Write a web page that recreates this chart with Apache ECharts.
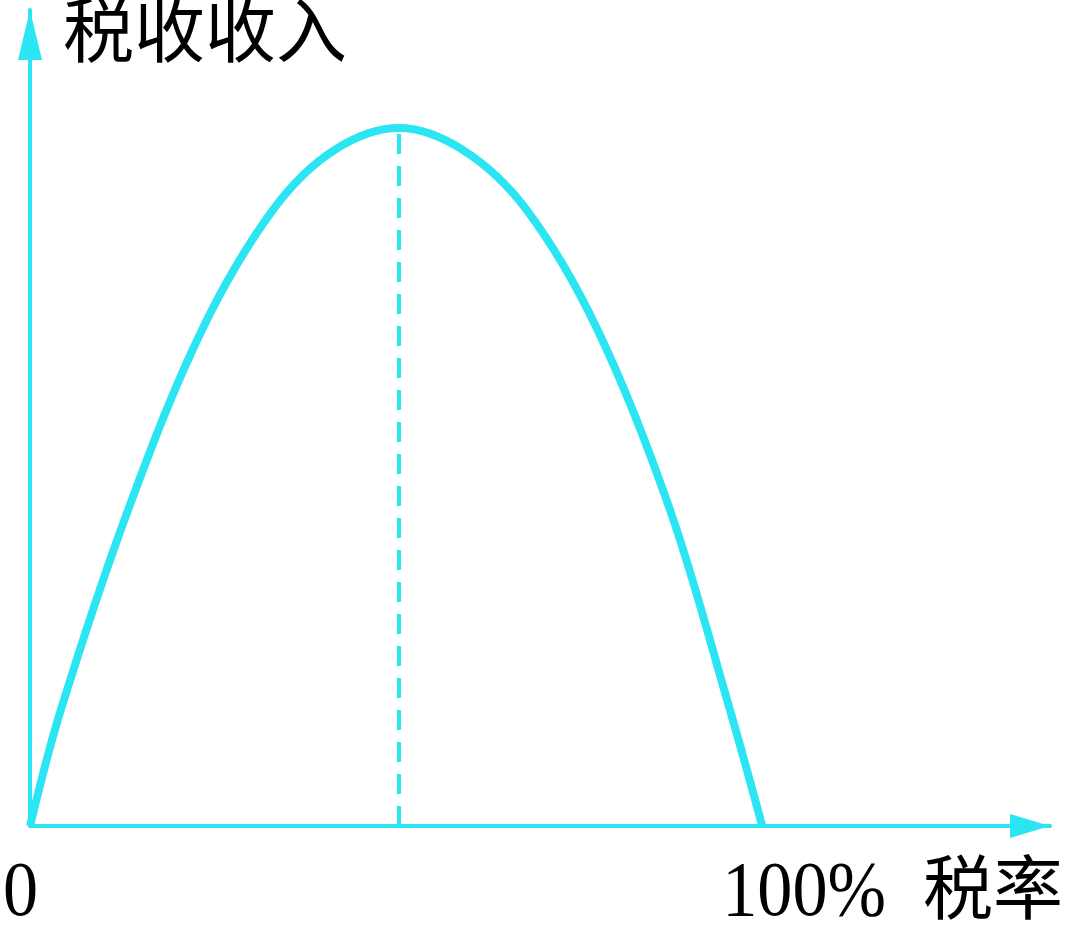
<!DOCTYPE html>
<html>
<head>
<meta charset="utf-8">
<script src="https://cdn.jsdelivr.net/npm/echarts@6/dist/echarts.min.js"></script>
<style>
html, body { margin: 0; padding: 0; background: #fff; }
#chart { width: 1065px; height: 927px; }
</style>
</head>
<body>
<div id="chart"></div>
<script>
// 税率 (%) and 税收收入 (peak = 100)
let taxRate = [0, 4.2, 13.4, 23.5, 33.2, 41.5, 50.4, 59.2, 67.8, 77.5, 87.4, 95.6, 100];
let revenue = [0, 16.6, 45.3, 71.1, 88.3, 96.8, 100, 96.8, 88.3, 71.1, 45.3, 16.6, 0];
let peakRate = 50.4;
let peakRevenue = 100;
let xTickValues = [0, 100];
let xTickLabels = ['0', '100%'];
let xName = '税率';
let yName = '税收收入';

let cyan = '#2BE5F2';
let xMax = 139.3;
let yMax = 116.9;

var myChart = echarts.init(document.getElementById('chart'));

let curveData = taxRate.map(function (r, i) { return [r, revenue[i]]; });

let option = {
	backgroundColor: '#fff',
	animation: false,
	grid: { left: 30, top: 10, right: 15, bottom: 101 },
	xAxis: {
		type: 'value', min: 0, max: xMax,
		axisLine: { show: true, symbol: ['none', 'triangle'], symbolSize: [24, 40], symbolOffset: [0, -20],
			lineStyle: { color: cyan, width: 4 } },
		axisTick: { show: false }, axisLabel: { show: false }, splitLine: { show: false }
	},
	yAxis: {
		type: 'value', min: 0, max: yMax,
		axisLine: { show: true, symbol: ['none', 'triangle'], symbolSize: [24, 50], symbolOffset: [0, -25],
			lineStyle: { color: cyan, width: 4 } },
		axisTick: { show: false }, axisLabel: { show: false }, splitLine: { show: false }
	},
	series: [
		{
			type: 'line', data: curveData, smooth: 0.35, showSymbol: false,
			lineStyle: { color: cyan, width: 8 }
		},
		{
			type: 'line', data: [[peakRate, 0], [peakRate, peakRevenue]], showSymbol: false,
			lineStyle: { color: cyan, width: 4, type: [20, 12] }
		}
	]
};
myChart.setOption(option);

// labels placed through the axes
let origin = myChart.convertToPixel({ gridIndex: 0 }, [0, 0]);
let texts = [];
xTickValues.forEach(function (v, i) {
	let p = myChart.convertToPixel({ gridIndex: 0 }, [v, 0]);
	texts.push({
		type: 'text', x: i == 0 ? p[0] - 27 : p[0] - 40, y: p[1] + 30,
		scaleX: 0.9, originX: 0,
		style: { text: xTickLabels[i], font: '78px "Liberation Serif"', fill: '#000' }
	});
});
let xEnd = myChart.convertToPixel({ gridIndex: 0 }, [xMax, 0]);
texts.push({
	type: 'text', x: xEnd[0] + 13, y: origin[1] + 26,
	style: { text: xName, font: '70px "Noto Sans CJK SC"', fill: '#000', align: 'right' }
});
let yEnd = myChart.convertToPixel({ gridIndex: 0 }, [0, yMax]);
texts.push({
	type: 'text', x: origin[0] + 33, y: yEnd[1] - 16,
	style: { text: yName, font: '71px "Noto Sans CJK SC"', fill: '#000' }
});
myChart.setOption({ graphic: texts });
</script>
</body>
</html>
